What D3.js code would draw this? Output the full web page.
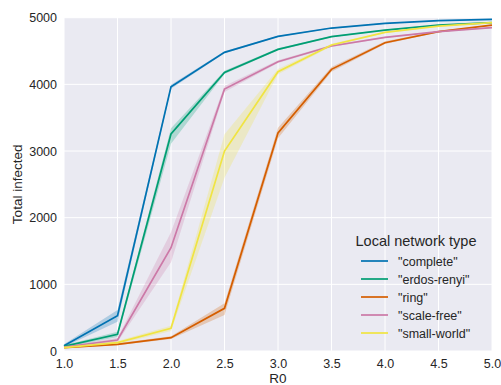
<!DOCTYPE html>
<html>
<head>
<meta charset="utf-8">
<script src="https://cdn.jsdelivr.net/npm/d3@7"></script>
<style>
  body { margin: 0; background: #fff; }
  svg { font-family: "Liberation Sans", Arial, sans-serif; }
</style>
</head>
<body>
<script>
// R0 values on the x axis
var r0 = [1.0, 1.5, 2.0, 2.5, 3.0, 3.5, 4.0, 4.5, 5.0];
var xTicks = [1.0, 1.5, 2.0, 2.5, 3.0, 3.5, 4.0, 4.5, 5.0];
var yTicks = [0, 1000, 2000, 3000, 4000, 5000];

var names = ['"complete"', '"erdos-renyi"', '"ring"', '"scale-free"', '"small-world"'];
var colors = ['#0072b2', '#009e73', '#d55e00', '#cc79a7', '#f0e442'];

// mean total infected per network type
var complete   = [80, 530, 3965, 4480, 4720, 4845, 4915, 4955, 4975];
var erdosRenyi = [70, 250, 3255, 4180, 4525, 4715, 4815, 4890, 4925];
var ring       = [50, 100, 200, 640, 3270, 4225, 4625, 4790, 4890];
var scaleFree  = [60, 165, 1550, 3930, 4340, 4575, 4705, 4790, 4850];
var smallWorld = [50, 125, 340, 3000, 4190, 4590, 4780, 4875, 4925];

// confidence band, lower / upper
var completeLo   = [60, 440, 3935, 4465, 4710, 4838, 4910, 4950, 4972];
var completeHi   = [100, 615, 3995, 4495, 4730, 4852, 4920, 4960, 4978];
var erdosLo      = [55, 210, 3110, 4155, 4510, 4705, 4808, 4885, 4920];
var erdosHi      = [85, 290, 3340, 4205, 4540, 4725, 4822, 4895, 4930];
var ringLo       = [40, 85, 180, 540, 3190, 4190, 4605, 4780, 4884];
var ringHi       = [60, 115, 220, 715, 3350, 4260, 4645, 4800, 4896];
var scaleLo      = [45, 135, 1330, 3885, 4320, 4560, 4695, 4782, 4844];
var scaleHi      = [75, 195, 1780, 3975, 4360, 4590, 4715, 4798, 4856];
var smallLo      = [40, 100, 300, 2600, 4150, 4570, 4770, 4868, 4920];
var smallHi      = [60, 150, 380, 3250, 4230, 4610, 4790, 4882, 4930];

var means = [complete, erdosRenyi, ring, scaleFree, smallWorld];
var lows = [completeLo, erdosLo, ringLo, scaleLo, smallLo];
var highs = [completeHi, erdosHi, ringHi, scaleHi, smallHi];

var width = 501, height = 385;
var margin = {left: 64, right: 9, top: 17.7, bottom: 34};

var svg = d3.select('body').append('svg')
  .attr('width', width)
  .attr('height', height);

var x = d3.scaleLinear().domain([1, 5]).range([margin.left, width - margin.right]);
var y = d3.scaleLinear().domain([0, 5000]).range([height - margin.bottom, margin.top]);

// background
svg.append('rect')
  .attr('x', x(1)).attr('y', y(5000))
  .attr('width', x(5) - x(1)).attr('height', y(0) - y(5000))
  .attr('fill', '#eaeaf2');

// grid
svg.append('g').selectAll('line').data(xTicks).enter().append('line')
  .attr('x1', function (d) { return x(d); })
  .attr('x2', function (d) { return x(d); })
  .attr('y1', y(0)).attr('y2', y(5000))
  .attr('stroke', '#fff').attr('stroke-width', 1);

svg.append('g').selectAll('line').data(yTicks).enter().append('line')
  .attr('y1', function (d) { return y(d); })
  .attr('y2', function (d) { return y(d); })
  .attr('x1', x(1)).attr('x2', x(5))
  .attr('stroke', '#fff').attr('stroke-width', 1);

// axes
var xAxis = svg.append('g')
  .attr('transform', 'translate(0,' + y(0) + ')')
  .call(d3.axisBottom(x).tickValues(xTicks).tickFormat(d3.format('.1f')).tickSize(0).tickPadding(8));
var yAxis = svg.append('g')
  .attr('transform', 'translate(' + x(1) + ',0)')
  .call(d3.axisLeft(y).tickValues(yTicks).tickFormat(d3.format('d')).tickSize(0).tickPadding(7));

[xAxis, yAxis].forEach(function (a) {
  a.select('.domain').remove();
  a.selectAll('text')
    .attr('fill', '#262626')
    .style('font-size', '12.5px')
    .style('font-family', '"Liberation Sans", Arial, sans-serif');
});

// axis labels
svg.append('text')
  .attr('x', (x(1) + x(5)) / 2).attr('y', 383)
  .attr('text-anchor', 'middle')
  .attr('fill', '#262626')
  .style('font-size', '13.5px')
  .text('R0');

svg.append('text')
  .attr('transform', 'translate(22,' + ((y(0) + y(5000)) / 2) + ') rotate(-90)')
  .attr('text-anchor', 'middle')
  .attr('fill', '#262626')
  .style('font-size', '13.5px')
  .text('Total infected');

// bands + lines
var area = d3.area()
  .x(function (d) { return x(d.x); })
  .y0(function (d) { return y(d.lo); })
  .y1(function (d) { return y(d.hi); });

var line = d3.line()
  .x(function (d) { return x(d.x); })
  .y(function (d) { return y(d.y); });

var plot = svg.append('g');

means.forEach(function (m, i) {
  var pts = r0.map(function (r, j) {
    return {x: r, y: m[j], lo: lows[i][j], hi: highs[i][j]};
  });
  plot.append('path')
    .attr('d', area(pts))
    .attr('fill', colors[i])
    .attr('fill-opacity', 0.25);
});

means.forEach(function (m, i) {
  var pts = r0.map(function (r, j) {
    return {x: r, y: m[j]};
  });
  plot.append('path')
    .attr('d', line(pts))
    .attr('fill', 'none')
    .attr('stroke', colors[i])
    .attr('stroke-width', 1.7);
});

// legend
var legend = svg.append('g');
legend.append('text')
  .attr('x', 416).attr('y', 245.5)
  .attr('text-anchor', 'middle')
  .attr('fill', '#262626')
  .style('font-size', '14.5px')
  .text('Local network type');

var entries = legend.selectAll('g.entry').data(names).enter().append('g')
  .attr('class', 'entry')
  .attr('transform', function (d, i) { return 'translate(0,' + (261 + i * 18) + ')'; });

entries.append('line')
  .attr('x1', 361).attr('x2', 388)
  .attr('stroke', function (d, i) { return colors[i]; })
  .attr('stroke-width', 1.7);

entries.append('text')
  .attr('x', 398).attr('y', 4.5)
  .attr('fill', '#262626')
  .style('font-size', '12.5px')
  .text(function (d) { return d; });
</script>
</body>
</html>
